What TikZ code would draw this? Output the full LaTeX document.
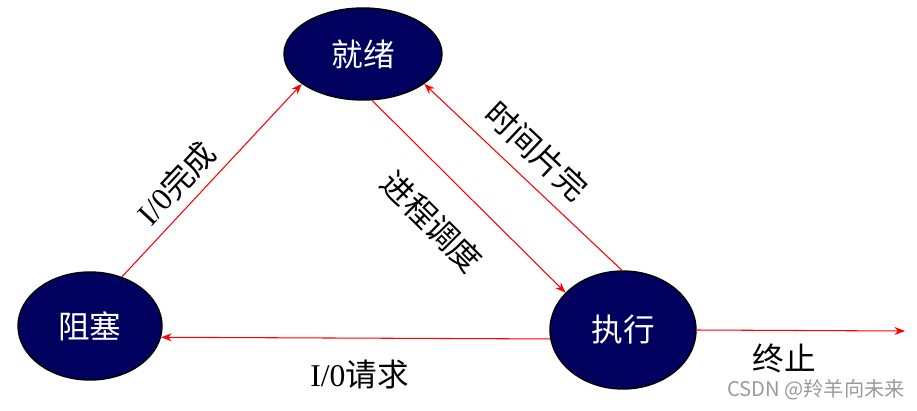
\documentclass[tikz,border=0pt]{standalone}
\usepackage{tikz}
\usetikzlibrary{arrows.meta, shapes.geometric}
\usepackage{xcolor}
\usepackage{fontspec}
\setmainfont{Liberation Serif}
\newfontfamily\cjk{Noto Sans CJK SC}
\definecolor{procNavy}{HTML}{00005E}
\definecolor{markGray}{HTML}{9A9A9A}

\begin{document}
\begin{tikzpicture}[
    ->,>={Stealth[length=6pt,width=4.5pt]},
    x=0.02cm, y=-0.02cm,
    proc/.style={ellipse, draw=black, thick, fill=procNavy, text=white, inner sep=0pt,
        font=\cjk\fontsize{18}{21}\selectfont},
    lbl/.style={font=\fontsize{18}{21}\selectfont, text=black},
    every edge/.style={draw=red, line width=0.6pt}
]
    \useasboundingbox (0,0) rectangle (917,410);

    \node[proc, minimum width=158*0.02cm, minimum height=92*0.02cm] (jiuxu) at (363,54) {就绪};
    \node[proc, minimum width=144*0.02cm, minimum height=108*0.02cm] (zuse) at (90,326) {阻塞};
    \node[proc, minimum width=146*0.02cm, minimum height=118*0.02cm] (zhixing) at (623,330) {执行};
    \coordinate (stop) at (905,331);

    \path (zuse.57) edge node[lbl, sloped, pos=0.4, above=2pt]{I/0{\cjk 完成}} (jiuxu.206)
          (jiuxu.281) edge node[lbl, sloped, pos=0.47, below=13pt]{\cjk 进程调度} (zhixing.147)
          (zhixing.91) edge node[lbl, sloped, pos=0.53, above=4pt]{\cjk 时间片完} (jiuxu.334)
          (zhixing.187) edge node[lbl, pos=0.49, below=9pt]{I/0{\cjk 请求}} (zuse.351)
          (zhixing.east) edge node[lbl, pos=0.42, below=4pt]{\cjk 终止} (stop);

    \node[text=markGray, font=\cjk\fontsize{11.5}{13}\selectfont] (mark) at (816,390) {CSDN @羚羊向未来};
\end{tikzpicture}
\end{document}
